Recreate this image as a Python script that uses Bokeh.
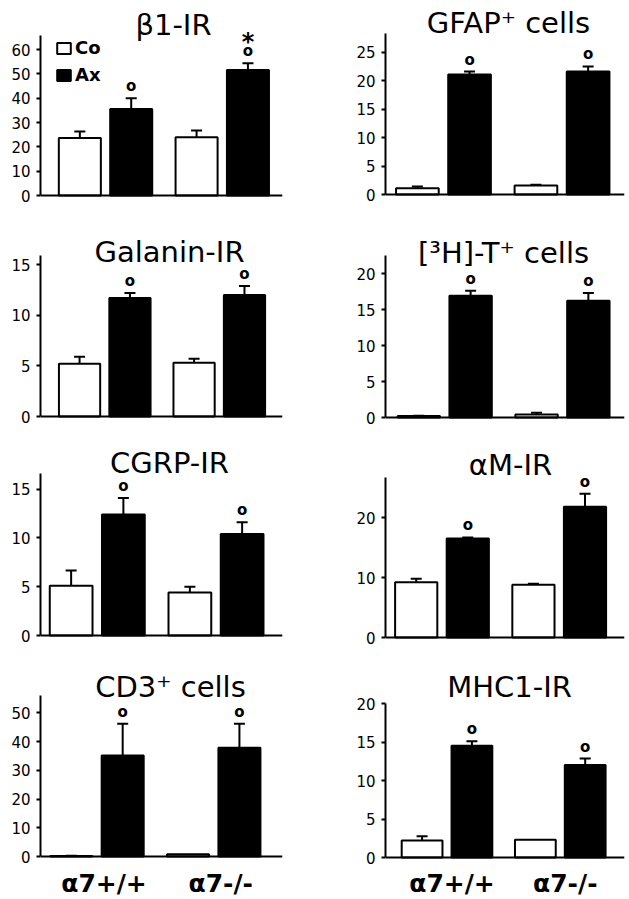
from bokeh.plotting import figure
from bokeh.models import (Range1d, FixedTicker, ColumnDataSource, Whisker, TeeHead,
                          Label, Legend, LegendItem, Span)
from bokeh.layouts import column, row
from bokeh.embed import file_html
from bokeh.resources import INLINE
from bokeh.core.properties import value
import numpy as np

# ---------------- data ----------------
groups = ["α7+/+", "α7-/-"]
series = ["Co", "Ax"]
titles = ["β1-IR", "GFAP⁺ cells", "Galanin-IR", "[³H]-T⁺ cells",
          "CGRP-IR", "αM-IR", "CD3⁺ cells", "MHC1-IR"]

co_mean = [[23.6, 24.0], [1.1, 1.6], [5.2, 5.3], [0.2, 0.4],
           [5.1, 4.4], [9.2, 8.8], [0.2, 0.8], [2.2, 2.3]]
co_err = [[2.7, 2.7], [0.3, 0.1], [0.7, 0.4], [0.05, 0.25],
          [1.55, 0.6], [0.6, 0.15], [0.1, 0.0], [0.55, 0.0]]
ax_mean = [[35.6, 51.6], [21.1, 21.6], [11.7, 12.0], [16.9, 16.2],
           [12.4, 10.4], [16.5, 21.8], [35.1, 37.8], [14.5, 12.0]]
ax_err = [[4.4, 2.8], [0.5, 0.9], [0.5, 0.9], [0.7, 1.1],
          [1.7, 1.2], [0.2, 2.2], [11.1, 8.4], [0.6, 0.85]]
ax_sig = [[1, 1]] * 8            # "o" : different from control
ax_star = [[0, 1], [0, 0], [0, 0], [0, 0], [0, 0], [0, 0], [0, 0], [0, 0]]  # "*"

y_max_tick = [60, 25, 15, 20, 15, 20, 50, 20]
y_step = [10, 5, 5, 5, 5, 10, 10, 5]

# ---------------- layout / style ----------------
y_end = [65.8, 28.3, 15.9, 22.5, 16.6, 26.7, 56.0, 20.0]
# page pixel rows: (axis top, zero line)
y_px = [(35, 195), (33, 194), (255, 416), (255, 417),
        (473, 635), (477, 637), (695, 856), (703, 857)]
x_rng = [(0.443, 2.516), (0.511, 2.527), (0.439, 2.552), (0.497, 2.527),
         (0.522, 2.56), (0.518, 2.557), (0.516, 2.589), (0.457, 2.567)]
col_w = [318, 308]
col_bl = [40, 67]
col_br = [36, 2]
row_h = [228, 212, 228, 231]
title_cx = [173, 508, 169, 503, 169, 510, 170, 509]
title_base = [35, 33, 262, 263, 473, 475, 697, 697]
title_adj = 11
group_dx = [7, 5]
group_base = 893
group_adj = 10
OFF = 0.22
BW = 0.36
FONT = "DejaVu Sans"

figs = []
for i in range(8):
    c = i % 2
    r = i // 2
    T = sum(row_h[:r])
    B = T + row_h[r]
    yt, z = y_px[i]
    s = (z - yt) / y_end[i]
    y_lo = -(B - z) / s
    y_hi = y_end[i] + (yt - T) / s
    fl = sum(col_w[:c]) + col_bl[c]

    p = figure(width=col_w[c], height=row_h[r], output_backend="svg",
               toolbar_location=None, x_range=Range1d(*x_rng[i]),
               y_range=Range1d(y_lo, y_hi),
               min_border_left=col_bl[c], min_border_right=col_br[c],
               min_border_top=0, min_border_bottom=0)
    p.outline_line_color = None
    p.grid.visible = False
    p.background_fill_color = "white"
    p.border_fill_color = "white"
    p.xaxis.visible = False

    xg = np.arange(1, len(groups) + 1, dtype=float)
    xc = xg - OFF
    xa = xg + OFF
    co_r = p.vbar(x=xc, top=co_mean[i], width=BW, bottom=0, fill_color="white",
                  line_color="black", line_width=2)
    ax_r = p.vbar(x=xa, top=ax_mean[i], width=BW, bottom=0, fill_color="black",
                  line_color="black", line_width=2)

    # baseline (x axis line)
    p.add_layout(Span(location=0, dimension="width", line_color="black", line_width=2))

    # error bars (upper only)
    bx, lo, hi = [], [], []
    for xs, m, e in ((xc, co_mean[i], co_err[i]), (xa, ax_mean[i], ax_err[i])):
        for k in range(len(groups)):
            if e[k] > 0:
                bx.append(xs[k]); lo.append(m[k]); hi.append(m[k] + e[k])
    src = ColumnDataSource(dict(base=bx, lower=lo, upper=hi))
    w = Whisker(source=src, base="base", lower="lower", upper="upper",
                line_color="black", line_width=2, lower_head=None,
                upper_head=TeeHead(size=11, line_width=2, line_color="black"))
    p.add_layout(w)

    # significance markers
    sx, sy = [], []
    tx, ty = [], []
    for k in range(len(groups)):
        top = ax_mean[i][k] + ax_err[i][k]
        if ax_sig[i][k]:
            sx.append(xa[k]); sy.append(top)
        if ax_star[i][k]:
            tx.append(xa[k]); ty.append(top)
    p.text(x=sx, y=sy, text=["o"] * len(sx), text_align="center",
           text_baseline="middle", y_offset=-12, text_font=value(FONT),
           text_font_style="bold", text_font_size="15px", text_color="black")
    if tx:
        p.text(x=tx, y=ty, text=["*"] * len(tx), text_align="center",
               text_baseline="middle", y_offset=-21, text_font=value(FONT),
               text_font_style="bold", text_font_size="24px", text_color="black")

    # y axis
    ya = p.yaxis[0]
    ya.ticker = FixedTicker(ticks=list(range(0, y_max_tick[i] + 1, y_step[i])))
    ya.bounds = (0, y_end[i])
    ya.axis_line_width = 2
    ya.major_tick_line_width = 2
    ya.major_tick_out = 4
    ya.major_tick_in = 0
    ya.minor_tick_line_color = None
    ya.major_label_standoff = 6
    ya.major_label_text_font = FONT
    ya.major_label_text_font_size = "15px"
    ya.major_label_text_color = "black"

    # title
    p.add_layout(Label(x=title_cx[i] - fl, y=B - title_base[i] + title_adj,
                       x_units="screen", y_units="screen",
                       text=titles[i], text_align="center",
                       text_baseline="alphabetic", text_font=FONT,
                       text_font_size="29px", text_color="black"))

    # group labels on bottom row
    if r == 3:
        for k, g in enumerate(groups):
            p.add_layout(Label(x=xg[k], y=B - group_base + group_adj,
                               x_units="data", y_units="screen",
                               x_offset=group_dx[c],
                               text=g, text_align="center", text_baseline="alphabetic",
                               text_font=FONT, text_font_style="bold",
                               text_font_size="25px", text_color="black"))

    if i == 0:
        leg = Legend(items=[LegendItem(label=series[0], renderers=[co_r]),
                            LegendItem(label=series[1], renderers=[ax_r])],
                     location=(15, 143), padding=0, margin=0, spacing=6,
                     glyph_width=17, glyph_height=14, label_standoff=3,
                     label_height=14, border_line_color=None,
                     background_fill_alpha=0, label_text_font=FONT,
                     label_text_font_style="bold", label_text_font_size="18px",
                     label_text_color="black", label_text_baseline="middle")
        p.add_layout(leg)
    figs.append(p)

layout = column(row(figs[0], figs[1]), row(figs[2], figs[3]),
                row(figs[4], figs[5]), row(figs[6], figs[7]))

open("out.html", "w").write(file_html(layout, INLINE))
